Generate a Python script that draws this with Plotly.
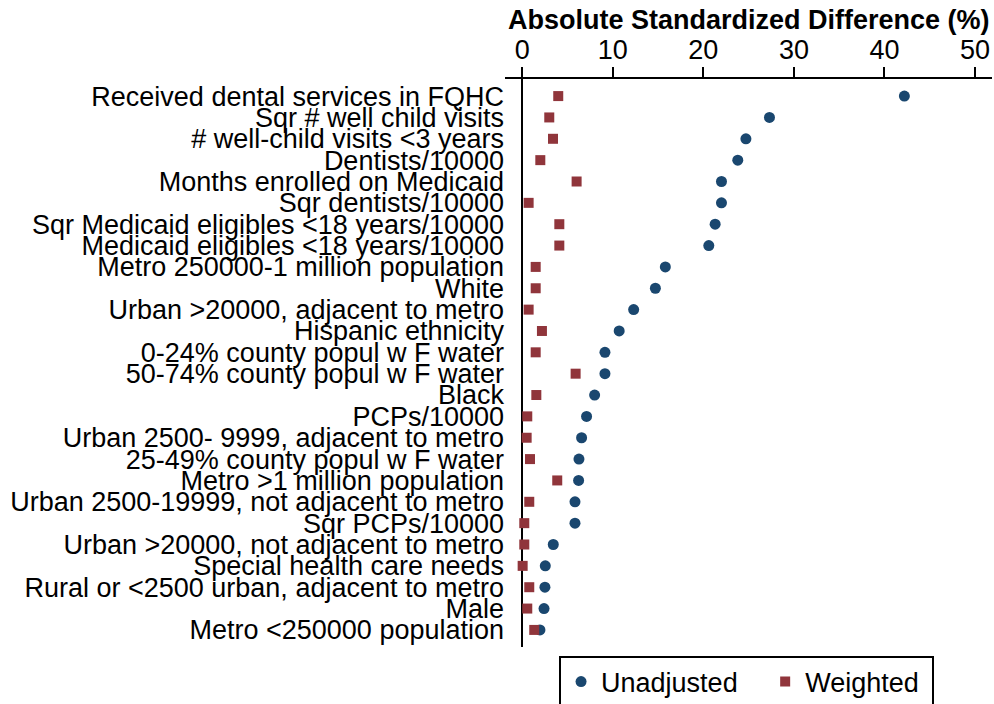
import plotly.graph_objects as go

categories = [
    "Received dental services in FQHC",
    "Sqr # well child visits",
    "# well-child visits <3 years",
    "Dentists/10000",
    "Months enrolled on Medicaid",
    "Sqr dentists/10000",
    "Sqr Medicaid eligibles <18 years/10000",
    "Medicaid eligibles <18 years/10000",
    "Metro 250000-1 million population",
    "White",
    "Urban >20000, adjacent to metro",
    "Hispanic ethnicity",
    "0-24% county popul w F water",
    "50-74% county popul w F water",
    "Black",
    "PCPs/10000",
    "Urban 2500- 9999, adjacent to metro",
    "25-49% county popul w F water",
    "Metro >1 million population",
    "Urban 2500-19999, not adjacent to metro",
    "Sqr PCPs/10000",
    "Urban >20000, not adjacent to metro",
    "Special health care needs",
    "Rural or <2500 urban, adjacent to metro",
    "Male",
    "Metro <250000 population",
]

unadjusted = [42.2, 27.3, 24.7, 23.8, 22.0, 22.0, 21.3, 20.6, 15.8, 14.7, 12.3, 10.7,
              9.13, 9.13, 7.99, 7.1, 6.55, 6.26, 6.22, 5.82, 5.82, 3.42, 2.54, 2.5, 2.4, 1.95]
weighted = [3.97, 2.98, 3.39, 1.99, 6.0, 0.70, 4.09, 4.09, 1.48, 1.48, 0.70, 2.17,
            1.48, 5.89, 1.55, 0.55, 0.48, 0.85, 3.86, 0.77, 0.22, 0.22, 0.04, 0.77, 0.55, 1.32]

x_ticks = [0, 10, 20, 30, 40, 50]
x_title = "Absolute Standardized Difference (%)"
series_names = ["Unadjusted", "Weighted"]

rows = list(range(len(categories)))
FONT = "Liberation Sans, Arial, sans-serif"
NAVY = "#1a476f"
MAROON = "#90353b"

fig = go.Figure()
fig.add_trace(go.Scatter(x=unadjusted, y=rows, mode="markers",
                         name=series_names[0] + "&nbsp;&nbsp;&nbsp;",
                         marker=dict(symbol="circle", size=11, color=NAVY, line=dict(width=0))))
fig.add_trace(go.Scatter(x=weighted, y=rows, mode="markers",
                         name=series_names[1] + "&nbsp;",
                         marker=dict(symbol="square", size=10, color=MAROON, line=dict(width=0))))

fig.add_annotation(text="<b>" + x_title + "</b>", xref="paper", yref="paper",
                   x=0.5, y=1.1039, xanchor="center", yanchor="middle",
                   showarrow=False, font=dict(size=27, color="black"))

fig.update_layout(
    width=994, height=704,
    margin=dict(l=505, r=2, t=79, b=57, pad=0, autoexpand=False),
    paper_bgcolor="white", plot_bgcolor="white",
    font=dict(family=FONT, size=27, color="black"),
    showlegend=True,
    legend=dict(orientation="h", x=0.111, xanchor="left", y=-0.015, yanchor="top",
                bordercolor="black", borderwidth=2, font=dict(size=27),
                itemsizing="trace", traceorder="normal"),
    xaxis=dict(side="top", range=[-1.91, 51.88], tickvals=x_ticks,
               ticks="outside", ticklen=10, tickwidth=2, tickcolor="black",
               showline=True, linecolor="black", linewidth=2,
               showgrid=False, zeroline=True, zerolinecolor="black", zerolinewidth=2,
               tickfont=dict(size=27), automargin=False, ticklabelstandoff=-3),
    yaxis=dict(range=[25.8, -0.8], tickvals=rows, ticktext=categories,
               showgrid=False, zeroline=False, showline=False, ticks="",
               tickfont=dict(size=27), automargin=False),
)

fig.write_html("out.html", config={"displayModeBar": False},
               post_script="document.body.style.margin='0';document.body.style.overflow='hidden';")
